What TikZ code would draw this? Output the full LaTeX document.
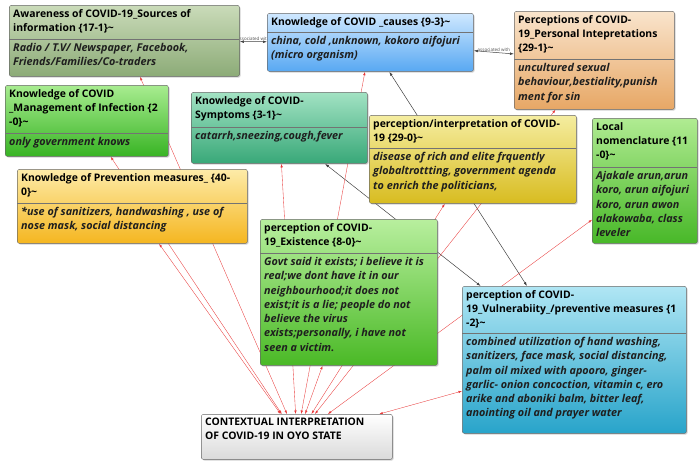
\documentclass[tikz,border=0pt]{standalone}
\usepackage{fontspec}
\setmainfont{Open Sans}
\usetikzlibrary{arrows.meta,shadows,backgrounds}

\definecolor{awareTop}{HTML}{CADBB9}
\definecolor{awareBot}{HTML}{8CAB77}
\definecolor{causeTop}{HTML}{CFE8FF}
\definecolor{causeBot}{HTML}{58A8F2}
\definecolor{persTop}{HTML}{F9E4CC}
\definecolor{persBot}{HTML}{E7A765}
\definecolor{mgmtTop}{HTML}{A8EC90}
\definecolor{mgmtBot}{HTML}{38B424}
\definecolor{sympTop}{HTML}{A2E2C3}
\definecolor{sympBot}{HTML}{38A878}
\definecolor{intTop}{HTML}{F5EDA0}
\definecolor{intBot}{HTML}{D8BC20}
\definecolor{nameTop}{HTML}{B0EB92}
\definecolor{nameBot}{HTML}{48B828}
\definecolor{prevTop}{HTML}{FDEBA8}
\definecolor{prevBot}{HTML}{F5B620}
\definecolor{exTop}{HTML}{B8EF9E}
\definecolor{exBot}{HTML}{4AB926}
\definecolor{vulTop}{HTML}{B0E6F4}
\definecolor{vulBot}{HTML}{28A4CA}
\definecolor{ctxTop}{HTML}{FFFFFF}
\definecolor{ctxBot}{HTML}{DADADA}
\definecolor{ctxRed}{HTML}{E83A3A}

\begin{document}
\begin{tikzpicture}[x=1pt,y=-1pt,
	box/.style={draw=black!60,rounded corners=2pt,anchor=north west,outer sep=0.4pt,inner sep=0pt,
		drop shadow={shadow xshift=1.2pt,shadow yshift=-1.2pt,opacity=0.35}},
	head/.style={anchor=north west,inner sep=0pt,align=left,font=\bfseries\fontsize{10.4}{14.2}\selectfont},
	body/.style={anchor=north west,inner sep=0pt,align=left,text=black!88,font=\bfseries\itshape\fontsize{10.8}{14.3}\selectfont},
	divider/.style={black!55,line width=0.6pt},
	assoc/.style={font=\fontsize{4.5}{5}\selectfont,text=black!70,inner sep=1pt},
	link/.style={black!75,line width=0.5pt,{Latex[length=4pt,width=2.6pt]}-{Latex[length=4pt,width=2.6pt]}},
	ctxlink/.style={ctxRed,line width=0.35pt,{Latex[length=3.5pt,width=2.4pt]}-{Latex[length=3.5pt,width=2.4pt]}}]
	\useasboundingbox (0,0) rectangle (700,462);

	% code boxes
	\node[box,top color=awareTop,bottom color=awareBot,minimum width=230pt,minimum height=71pt] (aware) at (9,5) {};
	\node[head] (aware-h) at (13,9) {Awareness of COVID-19\_Sources of\\information \{17-1\}\textasciitilde};
	\draw[divider] (9,39) -- (239,39);
	\node[body] (aware-b) at (13,43) {Radio / T.V/ Newspaper, Facebook,\\Friends/Families/Co-traders};

	\node[box,top color=causeTop,bottom color=causeBot,minimum width=206pt,minimum height=58pt] (causes) at (267,13) {};
	\node[head] (causes-h) at (271,17) {Knowledge of COVID \_causes \{9-3\}\textasciitilde};
	\draw[divider] (267,32) -- (473,32);
	\node[body] (causes-b) at (271,36) {china, cold ,unknown, kokoro aifojuri\\(micro organism)};

	\node[box,top color=persTop,bottom color=persBot,minimum width=160pt,minimum height=98pt] (personal) at (514,11) {};
	\node[head] (personal-h) at (518,15) {Perceptions of COVID-\\19\_Personal Intepretations\\\{29-1\}\textasciitilde};
	\draw[divider] (514,59) -- (674,59);
	\node[body] (personal-b) at (518,63) {uncultured sexual\\behaviour,bestiality,punish\\ment for sin};

	\node[box,top color=mgmtTop,bottom color=mgmtBot,minimum width=163pt,minimum height=71pt] (manage) at (5,85) {};
	\node[head] (manage-h) at (9,89) {Knowledge of COVID\\\_Management of Infection \{2\\-0\}\textasciitilde};
	\draw[divider] (5,133) -- (168,133);
	\node[body] (manage-b) at (9,137) {only government knows};

	\node[box,top color=sympTop,bottom color=sympBot,minimum width=176pt,minimum height=71pt] (symp) at (191,92) {};
	\node[head] (symp-h) at (195,96) {Knowledge of COVID-\\Symptoms \{3-1\}\textasciitilde};
	\draw[divider] (191,127) -- (367,127);
	\node[body] (symp-b) at (195,131) {catarrh,sneezing,cough,fever};

	\node[box,top color=intTop,bottom color=intBot,minimum width=207pt,minimum height=88pt] (interp) at (369,115) {};
	\node[head] (interp-h) at (373,119) {perception/interpretation of COVID-\\19 \{29-0\}\textasciitilde};
	\draw[divider] (369,148) -- (576,148);
	\node[body] (interp-b) at (373,152) {disease of rich and elite frquently\\globaltrottting, government agenda\\to enrich the politicians,};

	\node[box,top color=nameTop,bottom color=nameBot,minimum width=105pt,minimum height=125pt] (local) at (592,118) {};
	\node[head] (local-h) at (596,122) {Local\\nomenclature \{11\\-0\}\textasciitilde};
	\draw[divider] (592,167) -- (697,167);
	\node[body] (local-b) at (596,171) {Ajakale arun,arun\\koro, arun aifojuri\\koro, arun awon\\alakowaba, class\\leveler};

	\node[box,top color=prevTop,bottom color=prevBot,minimum width=230pt,minimum height=74pt] (prev) at (17,169) {};
	\node[head] (prev-h) at (21,173) {Knowledge of Prevention measures\_ \{40-\\0\}\textasciitilde};
	\draw[divider] (17,203) -- (247,203);
	\node[body] (prev-b) at (21,207) {*use of sanitizers, handwashing , use of\\nose mask, social distancing};

	\node[box,top color=exTop,bottom color=exBot,minimum width=177pt,minimum height=146pt] (exist) at (260,219) {};
	\node[head] (exist-h) at (264,223) {perception of COVID-\\19\_Existence \{8-0\}\textasciitilde};
	\draw[divider] (260,253) -- (437,253);
	\node[body] (exist-b) at (264,257) {Govt said it exists; i believe it is\\real;we dont have it in our\\neighbourhood;it does not\\exist;it is a lie; people do not\\believe the virus\\exists;personally, i have not\\seen a victim.};

	\node[box,top color=vulTop,bottom color=vulBot,minimum width=224pt,minimum height=147pt] (vuln) at (462,286) {};
	\node[head] (vuln-h) at (466,290) {perception of COVID-\\19\_Vulnerabiity\_/preventive measures \{1\\-2\}\textasciitilde};
	\draw[divider] (462,333) -- (686,333);
	\node[body] (vuln-b) at (466,337) {combined utilization of hand washing,\\sanitizers, face mask, social distancing,\\palm oil mixed with apooro, ginger-\\garlic- onion concoction, vitamin c, ero\\arike and aboniki balm, bitter leaf,\\anointing oil and prayer water};

	\node[box,top color=ctxTop,bottom color=ctxBot,minimum width=191pt,minimum height=45pt] (ctx) at (201,414) {};
	\node[head] (ctx-h) at (205,418) {CONTEXTUAL INTERPRETATION\\OF COVID-19 IN OYO STATE};

	% links
	\begin{pgfonlayer}{background}
		\draw[link] (aware) -- node[assoc,above] (aware-lbl) {associated with} (causes);
		\draw[link] (causes) -- node[assoc,above] (causes-lbl) {associated with} (personal);
		\draw[link] (symp) -- (vuln);
		\draw[link] (causes) -- (vuln);
		\foreach \code in {aware,causes,personal,manage,symp,interp,local,prev,exist,vuln}
			\draw[ctxlink] (ctx) -- (\code);
	\end{pgfonlayer}
\end{tikzpicture}
\end{document}
